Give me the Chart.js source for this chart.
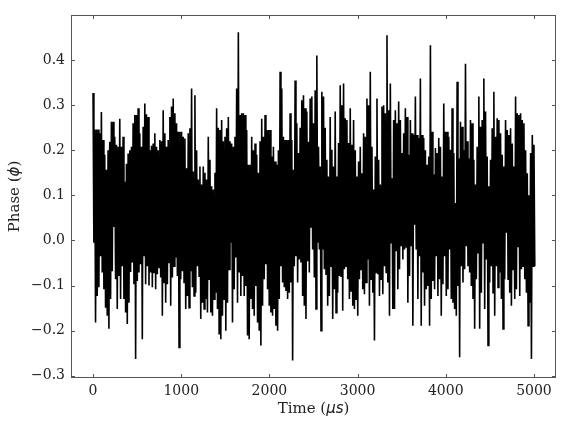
<!DOCTYPE html>
<html>
<head>
<meta charset="utf-8">
<script src="https://cdn.jsdelivr.net/npm/chart.js@4.4.1/dist/chart.umd.min.js"></script>
<style>
  html, body { margin: 0; padding: 0; background: #fff; }
  #phase-chart { display: block; }
</style>
</head>
<body>
<canvas id="phase-chart" width="562" height="428"></canvas>
<script>
const totalTime = 5000; // μs
const upperPhase = [
  0.327, 0.246, 0.246, 0.246, 0.238, 0.285, 0.223, 0.19, 0.157, 0.2,
  0.219, 0.263, 0.263, 0.23, 0.212, 0.208, 0.27, 0.208, 0.23, 0.13,
  0.17, 0.193, 0.2, 0.208, 0.26, 0.278, 0.278, 0.293, 0.238, 0.208,
  0.252, 0.304, 0.28, 0.274, 0.2, 0.21, 0.215, 0.238, 0.208, 0.2,
  0.223, 0.22, 0.289, 0.238, 0.208, 0.223, 0.274, 0.297, 0.315, 0.282,
  0.26, 0.241, 0.241, 0.241, 0.23, 0.226, 0.16, 0.238, 0.249, 0.337,
  0.153, 0.322, 0.2, 0.135, 0.164, 0.124, 0.164, 0.15, 0.135, 0.23,
  0.179, 0.12, 0.113, 0.15, 0.293, 0.25, 0.245, 0.267, 0.22, 0.23,
  0.249, 0.274, 0.22, 0.215, 0.208, 0.23, 0.337, 0.462, 0.278, 0.282,
  0.282, 0.278, 0.245, 0.168, 0.168, 0.23, 0.2, 0.215, 0.19, 0.15,
  0.22, 0.27, 0.23, 0.278, 0.245, 0.245, 0.245, 0.186, 0.208, 0.175,
  0.168, 0.2, 0.374, 0.337, 0.23, 0.223, 0.223, 0.223, 0.282, 0.223,
  0.157,
  0.355, 0.26, 0.194, 0.25, 0.311, 0.322, 0.293, 0.286, 0.219, 0.315,
  0.319, 0.26, 0.333, 0.41, 0.208, 0.164, 0.33, 0.319, 0.25, 0.179,
  0.142, 0.274, 0.201, 0.164, 0.286, 0.142, 0.216, 0.344, 0.3, 0.348,
  0.271, 0.267, 0.216, 0.293, 0.212, 0.267, 0.2, 0.142, 0.175, 0.208,
  0.149, 0.238, 0.23, 0.315, 0.3, 0.374, 0.208, 0.113, 0.186, 0.315,
  0.179, 0.124, 0.297, 0.3, 0.282, 0.455, 0.289, 0.348, 0.138, 0.267,
  0.289, 0.26, 0.308, 0.267, 0.194, 0.238, 0.293, 0.274, 0.19, 0.267,
  0.238, 0.234, 0.319, 0.234, 0.227, 0.359, 0.234, 0.227, 0.2, 0.168,
  0.186, 0.433, 0.241, 0.146, 0.205, 0.194, 0.227, 0.208, 0.142, 0.304,
  0.241, 0.241, 0.23, 0.201, 0.293, 0.194, 0.083, 0.352, 0.182, 0.263,
  0.252, 0.2, 0.392, 0.22, 0.182, 0.267, 0.26, 0.179, 0.124, 0.208,
  0.319, 0.252, 0.267, 0.359, 0.286, 0.186, 0.12, 0.179, 0.249, 0.33,
  0.23, 0.271, 0.267, 0.238, 0.19, 0.164, 0.267, 0.245, 0.234, 0.249,
  0.215, 0.164, 0.319, 0.282, 0.278, 0.282, 0.267, 0.26, 0.2, 0.149,
  0.1, 0.194, 0.234, 0.212
];
const lowerPhase = [
  -0.005, -0.182, -0.123, -0.104, -0.035, -0.071, -0.108, -0.149, -0.167, -0.196,
  -0.13, -0.068, 0.03, -0.086, -0.152, -0.079, -0.13, -0.057, -0.13, -0.16,
  -0.185, -0.138, -0.07, -0.049, -0.097, -0.263, -0.09, -0.071, -0.053, -0.219,
  -0.035, -0.097, -0.057, -0.1, -0.071, -0.104, -0.071, -0.108, -0.075, -0.06,
  -0.082, -0.167, -0.093, -0.138, -0.097, -0.049, -0.145, -0.082, -0.057, -0.038,
  -0.079, -0.237, -0.086, -0.068, -0.093, -0.152, -0.123, -0.149, -0.068, -0.104,
  -0.123, -0.116, -0.057, -0.079, -0.174, -0.138, -0.152, -0.13, -0.16, -0.086,
  -0.16, -0.167, -0.13, -0.116, -0.152, -0.207, -0.219, -0.167, -0.13, -0.2,
  -0.138, -0.064, -0.005, -0.182, -0.108, -0.038, -0.138, -0.071, -0.123, -0.079,
  -0.123, -0.101, -0.211, -0.219, -0.13, -0.152, -0.167, -0.101, -0.182, -0.2,
  -0.233, -0.145, -0.086, -0.053, -0.108, -0.145, -0.16, -0.167, -0.152, -0.189,
  -0.2, -0.13, -0.057, -0.093, -0.104, -0.112, -0.13, -0.116, -0.093, -0.266,
  -0.057,
  -0.035, -0.093, -0.042, -0.049, -0.123, -0.145, -0.174, -0.046, -0.071, 0.028,
  -0.02, -0.082, -0.152, -0.005, -0.02, -0.2, -0.02, -0.064, -0.075, -0.145,
  -0.123, -0.057, -0.174, -0.108, -0.16, -0.116, -0.079, -0.079, -0.156, -0.064,
  -0.057, -0.086, -0.13, -0.112, -0.145, -0.152, -0.13, -0.167, -0.086, -0.064,
  -0.108, -0.119, -0.093, -0.042, -0.145, -0.086, -0.116, -0.222, -0.071, -0.075,
  -0.123, -0.086, -0.119, -0.057, -0.071, -0.093, -0.167, -0.005, -0.152, -0.152,
  -0.024, -0.108, -0.064, -0.013, -0.042, -0.02, -0.016, -0.138, -0.079, -0.013,
  -0.189, 0.035, -0.02, -0.13, -0.035, -0.189, -0.071, -0.145, -0.108, -0.101,
  -0.189, -0.13, -0.09, -0.108, -0.035, -0.123, -0.086, -0.167, -0.097, -0.035,
  -0.123, -0.108, -0.02, -0.13, -0.138, -0.152, -0.167, -0.101, -0.259, -0.057,
  -0.093, -0.064, -0.013, -0.057, -0.071, -0.101, -0.13, -0.196, -0.086, -0.027,
  -0.196, -0.116, -0.005, -0.152, -0.042, -0.233, -0.093, -0.057, -0.116, -0.167,
  -0.057, -0.104, -0.071, -0.13, -0.196, -0.086, 0.017, -0.086, -0.116, -0.145,
  -0.064, -0.13, -0.108, -0.013, -0.123, -0.064, -0.057, -0.086, -0.116, -0.189,
  -0.138, -0.263, -0.057, -0.057
];
const xTicks = [0, 1000, 2000, 3000, 4000, 5000];
const yTicks = [-0.3, -0.2, -0.1, 0.0, 0.1, 0.2, 0.3, 0.4];

// each sample: the top reading, then the bottom reading half a step later
const sampleStep = totalTime / (upperPhase.length - 1);
const tracePoints = [];
for (let i = 0; i < upperPhase.length; i++) {
  tracePoints.push({ x: i * sampleStep, y: upperPhase[i] });
  tracePoints.push({ x: i * sampleStep + sampleStep / 2, y: lowerPhase[i] });
}

const serif = '"DejaVu Serif", serif';
const frameColor = '#555';

// matplotlib-like frame with inward ticks on all four sides
const framePlugin = {
  id: 'frame',
  afterDatasetsDraw(chart) {
    const { ctx, chartArea: a, scales } = chart;
    ctx.save();
    ctx.strokeStyle = frameColor;
    ctx.lineWidth = 1;
    ctx.strokeRect(a.left + 0.5, a.top + 0.5, a.right - a.left - 1, a.bottom - a.top - 1);
    const len = 4;
    ctx.beginPath();
    xTicks.forEach(v => {
      const px = Math.round(scales.x.getPixelForValue(v)) + 0.5;
      ctx.moveTo(px, a.bottom); ctx.lineTo(px, a.bottom - len);
      ctx.moveTo(px, a.top); ctx.lineTo(px, a.top + len);
    });
    yTicks.forEach(v => {
      const py = Math.round(scales.y.getPixelForValue(v)) + 0.5;
      ctx.moveTo(a.left, py); ctx.lineTo(a.left + len, py);
      ctx.moveTo(a.right, py); ctx.lineTo(a.right - len, py);
    });
    ctx.stroke();
    ctx.restore();
  },
  afterDraw(chart) {
    const { ctx, chartArea: a } = chart;
    const drawParts = (parts, cx, cy, rotate) => {
      ctx.save();
      ctx.translate(cx, cy);
      if (rotate) ctx.rotate(-Math.PI / 2);
      let total = 0;
      parts.forEach(p => { ctx.font = p.font; total += ctx.measureText(p.text).width; });
      let x = -total / 2;
      ctx.fillStyle = '#222';
      ctx.textBaseline = 'middle';
      parts.forEach(p => {
        ctx.font = p.font;
        ctx.fillText(p.text, x, 0);
        x += ctx.measureText(p.text).width;
      });
      ctx.restore();
    };
    const plain = '15px ' + serif;
    const math = 'italic 15px "DejaVu Sans", sans-serif';
    drawParts([{ text: 'Time (', font: plain }, { text: 'μs', font: math }, { text: ')', font: plain }],
      (a.left + a.right) / 2, 409, false);
    drawParts([{ text: 'Phase (', font: plain }, { text: 'ϕ', font: math }, { text: ')', font: plain }],
      15, (a.top + a.bottom) / 2, true);
  }
};

const ctx = document.getElementById('phase-chart').getContext('2d');
new Chart(ctx, {
  type: 'line',
  data: {
    datasets: [{
      data: tracePoints,
      borderColor: '#000',
      borderWidth: 1.6,
      pointRadius: 0,
      tension: 0,
      fill: false
    }]
  },
  options: {
    responsive: false,
    animation: false,
    parsing: false,
    normalized: true,
    layout: { padding: { top: 15, right: 6, left: 0, bottom: 0 } },
    plugins: { legend: { display: false }, tooltip: { enabled: false } },
    scales: {
      x: {
        type: 'linear',
        min: -250,
        max: 5250,
        grid: { display: false, drawTicks: false },
        border: { display: false },
        afterBuildTicks: s => { s.ticks = xTicks.map(v => ({ value: v })); },
        afterFit: s => { s.height = 50; },
        ticks: {
          padding: 5,
          color: '#222',
          font: { family: serif, size: 14 },
          maxRotation: 0,
          callback: v => String(v)
        }
      },
      y: {
        type: 'linear',
        min: -0.305,
        max: 0.5,
        grid: { display: false, drawTicks: false },
        border: { display: false },
        afterBuildTicks: s => { s.ticks = yTicks.map(v => ({ value: v })); },
        afterFit: s => { s.width = 71; },
        ticks: {
          padding: 6,
          color: '#222',
          font: { family: serif, size: 14 },
          callback: v => v.toFixed(1).replace('-', '\u2212')
        }
      }
    }
  },
  plugins: [framePlugin]
});
</script>
</body>
</html>
